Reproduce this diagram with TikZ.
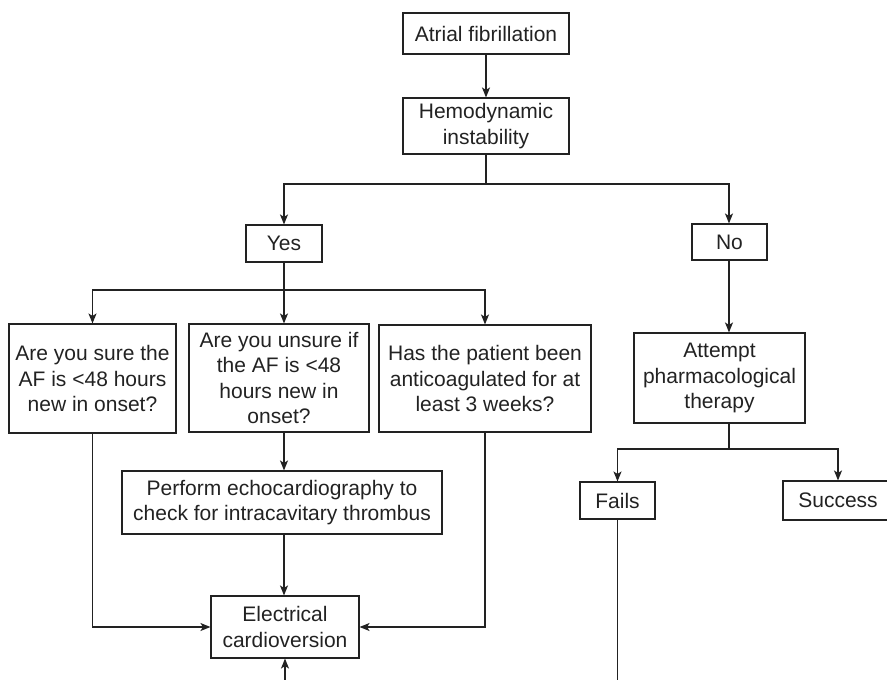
\documentclass[tikz,border=0pt]{standalone}
\usepackage{fontspec}
\setmainfont{Liberation Sans}
\usetikzlibrary{arrows.meta}
\definecolor{ink}{HTML}{222222}
\begin{document}
\begin{tikzpicture}[x=1pt,y=-1pt,
  line width=1.2pt, draw=ink,
  box/.style={draw=ink, line width=1.1pt, text=ink, align=center, inner sep=0pt,
    font=\fontsize{21}{25.5}\selectfont},
  arr/.style={-{Stealth[length=10pt,width=8pt,inset=2.5pt]}}]
\useasboundingbox (0,0) rectangle (887,680);

% boxes
\node[box, minimum width=166, minimum height=41] (af)    at (486,33.5)  {Atrial fibrillation};
\node[box, minimum width=166, minimum height=56] (hemo)  at (486,126)   {Hemodynamic\\instability};
\node[box, minimum width=76,  minimum height=37] (yes)   at (284,243.5) {Yes};
\node[box, minimum width=75,  minimum height=36] (no)    at (729.5,242) {No};
\node[box, minimum width=167, minimum height=109] (q1)   at (92.5,378.5) {Are you sure the\\AF is <48 hours\\new in onset?};
\node[box, minimum width=180, minimum height=108] (q2)   at (279,378)   {Are you unsure if\\the AF is <48\\hours new in\\onset?};
\node[box, minimum width=212, minimum height=107] (q3)   at (485,378.5) {Has the patient been\\anticoagulated for at\\least 3 weeks?};
\node[box, minimum width=320, minimum height=63] (echo)  at (282,502.5) {Perform echocardiography to\\check for intracavitary thrombus};
\node[box, minimum width=148, minimum height=62] (elec)  at (285,627)   {Electrical\\cardioversion};
\node[box, minimum width=171, minimum height=90] (att)   at (719.5,378) {Attempt\\pharmacological\\therapy};
\node[box, minimum width=75,  minimum height=37] (fails) at (617.5,500.5) {Fails};
\node[box, minimum width=110, minimum height=39] (succ)  at (838,500.5) {Success};

% branch points and off-page ends
\coordinate (s1) at (486,184);
\coordinate (s2) at (284,290);
\coordinate (s3) at (729,449);
\coordinate (lowE) at (285,700);
\coordinate (lowF) at (617.5,700);

% connectors
\draw[arr] (af) -- (hemo);
\draw (hemo.south) -- (s1);
\draw[arr] (s1) -| (yes.north);
\draw[arr] (s1) -| (s3 |- no.north);
\draw (yes.south) -- (s2);
\draw[arr] (s2) -| (q1.north);
\draw[arr] (s2) -- (s2 |- q2.north);
\draw[arr] (s2) -| (q3.north);
\draw[arr] (s2 |- q2.south) -- (s2 |- echo.north);
\draw[arr] (s2 |- echo.south) -- (s2 |- elec.north);
\draw[arr] (q1.south) |- (elec.west);
\draw[arr] (q3.south) |- (elec.east);
\draw[arr] (lowE) -- (elec.south);
\draw[arr] (s3 |- no.south) -- (s3 |- att.north);
\draw (s3 |- att.south) -- (s3);
\draw[arr] (s3) -| (fails.north);
\draw[arr] (s3) -| (succ.north);
\draw (fails.south) -- (lowF);
\end{tikzpicture}
\end{document}
